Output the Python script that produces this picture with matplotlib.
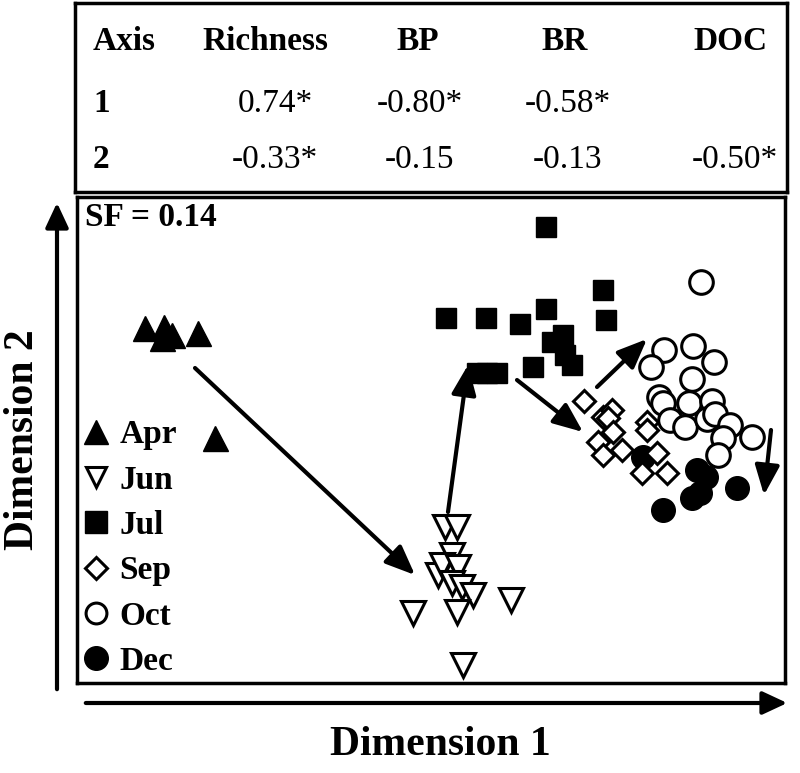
import matplotlib.pyplot as plt
from matplotlib.lines import Line2D
from matplotlib.patches import FancyArrowPatch

plt.rcParams['font.family'] = ['Liberation Serif', 'DejaVu Serif']

# NMDS scores (arbitrary units)
apr_x = [68, 87, 85, 95, 121, 138]
apr_y = [355, 356, 345, 348, 350, 245]
jun_x = [368, 380, 375, 361, 365, 381, 375, 385, 396, 336, 380, 434, 386]
jun_y = [156, 156, 128, 108, 118, 116, 100, 96, 88, 70, 71, 83, 18]
jul_x = [469, 526, 529, 369, 409, 443, 469, 486, 475, 488, 495, 456, 400, 410, 420]
jul_y = [456, 393, 363, 365, 365, 359, 374, 348, 341, 328, 318, 316, 310, 310, 310]
sep_x = [507, 526, 535, 531, 536, 521, 526, 545, 570, 570, 580, 565, 590]
sep_y = [282, 266, 273, 265, 251, 241, 228, 233, 261, 253, 230, 210, 210]
oct_x = [624, 587, 616, 574, 637, 615, 582, 586, 612, 635, 593, 608, 630, 638, 653, 675, 646, 641]
oct_y = [401, 333, 337, 316, 321, 304, 286, 280, 280, 282, 263, 256, 264, 269, 258, 246, 245, 228]
dec_x = [566, 620, 629, 660, 623, 615, 586]
dec_y = [226, 213, 206, 195, 190, 185, 173]

# seasonal trajectory arrows (tail -> head)
arrow_from = [(118, 315), (371, 171), (440, 303), (520, 296), (694, 253)]
arrow_to = [(338, 108), (391, 318), (506, 251), (570, 344), (687, 188)]

# correlation table
table_cols = ['Axis', 'Richness', 'BP', 'BR', 'DOC']
table_rows = [['1', '0.74*', '-0.80*', '-0.58*', ''],
              ['2', '-0.33*', '-0.15', '-0.13', '-0.50*']]

fig = plt.figure(figsize=(8, 7.73), dpi=100)

# table panel
tax = fig.add_axes([75 / 800, 1 - 192 / 773, 712 / 800, 189 / 773])
tax.set_xlim(75, 787)
tax.set_ylim(192, 3)
tax.set_xticks([])
tax.set_yticks([])
for s in tax.spines.values():
    s.set_linewidth(2.5)
col_x = [93, 265, 418, 565, 730]
val_x = [93, 275, 420, 568, 735]
for cx, name in zip(col_x, table_cols):
    ha = 'left' if name == 'Axis' else 'center'
    tax.text(cx, 42, name, ha=ha, va='center', fontsize=24, fontweight='bold')
for ry, row in zip([104, 160], table_rows):
    for i, val in enumerate(row):
        if i == 0:
            tax.text(val_x[i], ry, val, ha='left', va='center', fontsize=24, fontweight='bold')
        else:
            tax.text(val_x[i], ry, val, ha='center', va='center', fontsize=24)

# ordination panel
ax = fig.add_axes([77 / 800, 1 - 683 / 773, 708 / 800, 486 / 773])
ax.set_xlim(0, 708)
ax.set_ylim(0, 486)
ax.set_xticks([])
ax.set_yticks([])
for s in ax.spines.values():
    s.set_linewidth(2.5)

ax.plot(apr_x, apr_y, '^', color='black', ms=18, ls='none', zorder=3)
ax.plot(jun_x, jun_y, 'v', mfc='white', mec='black', mew=2.2, ms=17, ls='none', zorder=3)
ax.plot(jul_x, jul_y, 's', color='black', ms=15, ls='none', zorder=3)
ax.plot(dec_x, dec_y, 'o', color='black', ms=17, ls='none', zorder=3)
ax.plot(sep_x, sep_y, 'D', mfc='white', mec='black', mew=2.2, ms=11, ls='none', zorder=4)
ax.plot(oct_x, oct_y, 'o', mfc='white', mec='black', mew=2.2, ms=17, ls='none', zorder=4)

for (x0, y0), (x1, y1) in zip(arrow_from, arrow_to):
    ax.annotate('', xy=(x1, y1), xytext=(x0, y0),
                arrowprops=dict(arrowstyle='-|>,head_length=1.8,head_width=0.75',
                                mutation_scale=10, color='black', lw=3,
                                shrinkA=0, shrinkB=0),
                zorder=5)

ax.text(0.012, 0.99, 'SF = 0.14', transform=ax.transAxes, ha='left', va='top',
        fontsize=24, fontweight='bold')

handles = [
    Line2D([], [], marker='^', color='black', ls='none', ms=17),
    Line2D([], [], marker='v', mfc='white', mec='black', mew=2.2, ls='none', ms=15),
    Line2D([], [], marker='s', color='black', ls='none', ms=16),
    Line2D([], [], marker='D', mfc='white', mec='black', mew=2.2, ls='none', ms=11),
    Line2D([], [], marker='o', mfc='white', mec='black', mew=2.2, ls='none', ms=15),
    Line2D([], [], marker='o', color='black', ls='none', ms=17),
]
labels = ['Apr', 'Jun', 'Jul', 'Sep', 'Oct', 'Dec']
ax.legend(handles, labels, loc='lower left', bbox_to_anchor=(-0.027, -0.036), frameon=False,
          prop={'size': 24, 'weight': 'bold'}, handlelength=0.9, handletextpad=0.25,
          labelspacing=0.43, borderpad=0.2)

# axis direction arrows
fig.patches.append(FancyArrowPatch(
    (57, 773 - 692), (57, 773 - 200), transform=None, mutation_scale=10,
    arrowstyle='-|>,head_length=1.5,head_width=0.7', lw=3, color='black'))
fig.patches.append(FancyArrowPatch(
    (83, 773 - 703), (790, 773 - 703), transform=None, mutation_scale=10,
    arrowstyle='-|>,head_length=1.5,head_width=0.7', lw=3, color='black'))

fig.text(440 / 800, 1 - 745 / 773, 'Dimension 1', ha='center', va='center',
         fontsize=30, fontweight='bold')
fig.text(23 / 800, 1 - 440 / 773, 'Dimension 2', ha='center', va='center',
         rotation=90, fontsize=30, fontweight='bold')

fig.savefig('out.png', dpi=100)
